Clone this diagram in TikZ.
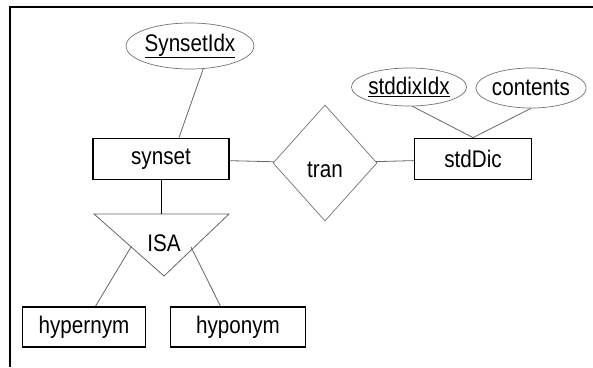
\documentclass[tikz,border=0pt]{standalone}
\usepackage{fontspec}
\setmainfont[FakeStretch=0.86]{Liberation Sans}
\usetikzlibrary{shapes.geometric}
\begin{document}
\begin{tikzpicture}[x=1pt,y=-1pt,
  font=\fontsize{24}{28}\selectfont,
  entity/.style={draw,line width=1.8pt,minimum height=41pt,inner sep=0pt},
  attr/.style={draw=black!55,line width=0.7pt,ellipse,inner sep=0pt},
  conn/.style={draw=black!60,line width=0.8pt}]
        \useasboundingbox (0,0) rectangle (593,367);
        \draw[line width=1.6pt] (593,7) -- (10,7) -- (10,367);

        \node[entity,minimum width=136pt] (synset) at (161,159) {synset};
        \node[entity,minimum width=117pt] (stdDic) at (473,159) {stdDic};
        \node[entity,minimum width=123pt,minimum height=40pt] (hyper) at (84,327) {hypernym};
        \node[entity,minimum width=135pt,minimum height=40pt] (hypo) at (238,327) {hyponym};

        \node[attr,minimum width=104pt,minimum height=46pt] (sidx) at (190,46) {\underline{SynsetIdx}};
        \node[attr,minimum width=106pt,minimum height=38pt] (didx) at (409,87) {\underline{stddixIdx}};
        \node[attr,minimum width=104pt,minimum height=40pt] (cont) at (531,88) {contents};

        \node[diamond,draw=black!55,line width=0.7pt,minimum width=104pt,minimum height=116pt,inner sep=0pt] (tran) at (325,163) {};
        \node (tranlbl) at (325,170) {tran};

        \coordinate (T1) at (94,214);
        \coordinate (T2) at (229,214);
        \coordinate (T3) at (164,276);
        \coordinate (TL) at (131,247);
        \coordinate (TR) at (191,247);
        \node (isa) at (164,243) {ISA};

        \draw[conn] (T1) -- (T2) -- (T3) -- cycle;
        \draw[line width=0.8pt] (synset.south) -- (synset.south |- T1);
        \draw[conn] (TL) -- (hyper.61);
        \draw[conn] (TR) -- (hypo.130);
        \draw[conn] (sidx.-60) -- (synset.50);
        \draw[conn] (synset) -- (tran) -- (stdDic);
        \draw[conn] (didx.-80) -- (stdDic.north);
        \draw[conn] (cont.south) -- (stdDic.north);
      \end{tikzpicture}
\end{document}
